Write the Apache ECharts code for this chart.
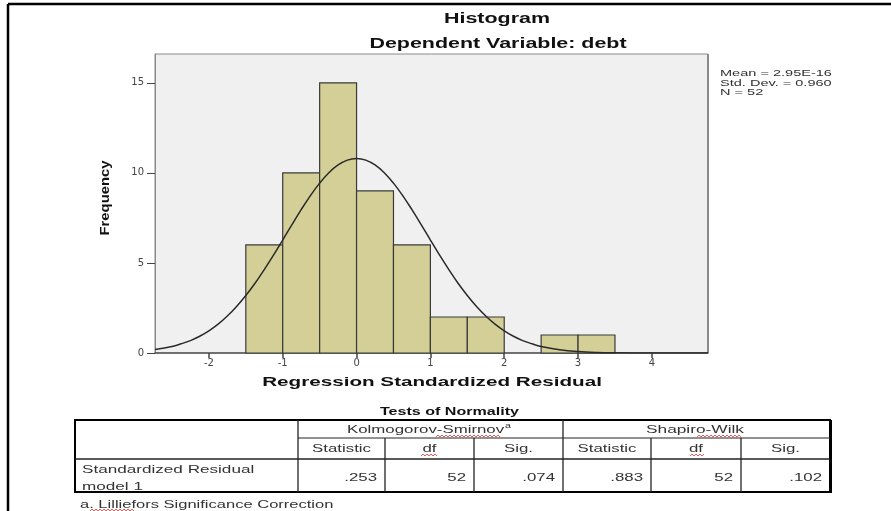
<!DOCTYPE html>
<html>
<head>
<meta charset="utf-8">
<title>Histogram</title>
<script src="https://cdn.jsdelivr.net/npm/echarts@6/dist/echarts.min.js"></script>
<style>
  html, body { margin: 0; padding: 0; background: #fff; }
  #main { width: 891px; height: 511px; }
</style>
</head>
<body>
<div id="main"></div>
<script type="text/javascript">
// histogram bins (left edge, width 0.5) and frequencies
var binStart = [-1.5, -1.0, -0.5, 0.0, 0.5, 1.0, 1.5, 2.0, 2.5, 3.0];
var binCount = [6, 10, 15, 9, 6, 2, 2, 0, 1, 1];
var binWidth = 0.5;

// normal curve
var curveX = [-2.73, -2.5, -2.375, -2.25, -2.125, -2, -1.875, -1.75, -1.625, -1.5, -1.375, -1.25, -1.125, -1, -0.875, -0.75, -0.625, -0.5, -0.375, -0.25, -0.125, 0,
              0.125, 0.25, 0.375, 0.5, 0.625, 0.75, 0.875, 1, 1.125, 1.25, 1.375, 1.5, 1.625, 1.75, 1.875, 2, 2.125, 2.25, 2.375, 2.5, 2.75, 3, 3.25, 3.5, 4, 4.76];
var curveY = [0.2, 0.36, 0.51, 0.69, 0.93, 1.23, 1.6, 2.05, 2.58, 3.19, 3.87, 4.63, 5.43, 6.27, 7.13, 7.96, 8.74, 9.43, 10.01, 10.44, 10.71, 10.8,
              10.71, 10.44, 10.01, 9.43, 8.74, 7.96, 7.13, 6.27, 5.43, 4.63, 3.87, 3.19, 2.58, 2.05, 1.6, 1.23, 0.93, 0.69, 0.51, 0.36, 0.18, 0.08, 0.03, 0.01, 0, 0];

var xTicks = [-2, -1, 0, 1, 2, 3, 4];
var yTicks = [0, 5, 10, 15];

var statLines = ['Mean = 2.95E-16', 'Std. Dev. = 0.960', 'N = 52'];

// tests of normality table
var ksStats = ['.253', '52', '.074'];
var swStats = ['.883', '52', '.102'];
var subHeads = ['Statistic', 'df', 'Sig.', 'Statistic', 'df', 'Sig.'];

var colX = [75, 298, 385, 474, 563, 651, 741, 830];
var rowY = [420, 438, 459, 492];

var FONT = '"Liberation Sans", Arial, sans-serif';
var SX = 1.53;

function txt(x, y, s, size, opts) {
    opts = opts || {};
    return {
        type: 'text',
        x: x, y: y,
        scaleX: opts.sx || SX,
        rotation: opts.rot || 0,
        scaleY: 1,
        silent: true,
        style: {
            text: s,
            font: (opts.bold ? 'bold ' : '') + size + 'px ' + FONT,
            fill: opts.color || '#333',
            align: opts.align || 'left',
            verticalAlign: 'middle'
        }
    };
}
function seg(x1, y1, x2, y2, w, c) {
    return {
        type: 'line', silent: true,
        shape: {x1: x1, y1: y1, x2: x2, y2: y2},
        style: {stroke: c || '#222', lineWidth: w || 1}
    };
}

var myChart = echarts.init(document.getElementById('main'));

var barData = [];
for (var i = 0; i < binStart.length; i++) {
    if (binCount[i] > 0) barData.push([binStart[i], binStart[i] + binWidth, binCount[i]]);
}
var lineData = [];
for (var j = 0; j < curveX.length; j++) lineData.push([curveX[j], curveY[j]]);

var g = [];
// outer frame
g.push(seg(8, 4, 891, 4, 2.5, '#000'));
g.push(seg(8, 4, 8, 511, 2.5, '#000'));
// titles
g.push(txt(497, 19, 'Histogram', 14, {bold: true, align: 'center', color: '#111'}));
g.push(txt(498, 44, 'Dependent Variable: debt', 14, {bold: true, align: 'center', color: '#111'}));
// plot right border a bit heavier
g.push(seg(708, 54, 708, 353, 2, '#8a8a8a'));
// stats box
for (var k = 0; k < statLines.length; k++) {
    g.push(txt(720, 73.5 + k * 9.5, statLines[k], 9.5, {color: '#333'}));
}
// axis names
g.push(txt(105, 198, 'Frequency', 13, {bold: true, rot: Math.PI / 2, sx: 1.14, align: 'center', color: '#111'}));
g.push(txt(432, 382, 'Regression Standardized Residual', 13.5, {bold: true, align: 'center', color: '#111'}));

// table
g.push(txt(380, 412, 'Tests of Normality', 10.5, {bold: true, color: '#111'}));
g.push({
    type: 'rect', silent: true,
    shape: {x: colX[0], y: rowY[0], width: colX[7] - colX[0], height: rowY[3] - rowY[0]},
    style: {fill: 'none', stroke: '#000', lineWidth: 2}
});
g.push(seg(831, rowY[0], 831, rowY[3] + 1, 2, '#000'));
g.push(seg(colX[1], rowY[0], colX[1], rowY[3], 1.3));
g.push(seg(colX[4], rowY[0], colX[4], rowY[3], 1.3));
[2, 3, 5, 6].forEach(function (c) { g.push(seg(colX[c], rowY[1], colX[c], rowY[3], 1.3)); });
g.push(seg(colX[1], rowY[1], colX[7], rowY[1], 1));
g.push(seg(colX[0], rowY[2], colX[7], rowY[2], 1.3));

g.push(txt(347, 429.5, 'Kolmogorov-Smirnov', 11));
g.push(txt(505, 426, 'a', 7));
g.push(txt(646, 429.5, 'Shapiro-Wilk', 11.3));
for (var h = 0; h < subHeads.length; h++) {
    g.push(txt((colX[h + 1] + colX[h + 2]) / 2, 449, subHeads[h], 11, {align: 'center'}));
}
g.push(txt(82, 469.5, 'Standardized Residual', 11.2));
g.push(txt(82, 486.5, 'model 1', 11.2));
var vals = ksStats.concat(swStats);
for (var v = 0; v < vals.length; v++) {
    g.push(txt(colX[v + 2] - 8, 477.5, vals[v], 11, {align: 'right'}));
}
g.push(txt(80, 505, 'a. Lilliefors Significance Correction', 10.8));

// spell-check squiggles
function squiggle(x0, x1, y) {
    var pts = [];
    for (var x = x0, up = 0; x <= x1; x += 2, up = 1 - up) pts.push([x, y + (up ? -1 : 1)]);
    return {type: 'polyline', silent: true, shape: {points: pts}, style: {stroke: '#e03030', lineWidth: 0.8, fill: null}};
}
g.push(squiggle(436, 500, 436));
g.push(squiggle(421, 437, 455));
g.push(squiggle(690, 704, 455));
g.push(squiggle(697, 742, 436));
g.push(squiggle(90, 134, 510));

var option = {
    animation: false,
    backgroundColor: '#fff',
    grid: {
        left: 155, top: 54, right: 183, bottom: 158,
        show: true,
        backgroundColor: '#f0f0f0',
        borderColor: '#8a8a8a',
        borderWidth: 1
    },
    xAxis: {
        type: 'value',
        min: -2.73, max: 4.76,
        axisLine: {show: true, onZero: false, lineStyle: {color: '#555', width: 1.5}},
        axisTick: {show: true, length: 5, customValues: xTicks, lineStyle: {color: '#444', width: 1.5}},
        axisLabel: {customValues: xTicks, margin: 5, fontSize: 10, color: '#444', fontFamily: 'DejaVu Sans'},
        splitLine: {show: false}
    },
    yAxis: {
        type: 'value',
        min: 0, max: 16.6,
        axisLine: {show: true, onZero: false, lineStyle: {color: '#8a8a8a', width: 1}},
        axisTick: {show: true, length: 8, customValues: yTicks, lineStyle: {color: '#444', width: 1}},
        axisLabel: {customValues: yTicks, margin: 11, fontSize: 10, color: '#444', fontFamily: 'DejaVu Sans'},
        splitLine: {show: false}
    },
    series: [
        {
            type: 'custom',
            data: barData,
            renderItem: function (params, api) {
                var p0 = api.coord([api.value(0), api.value(2)]);
                var p1 = api.coord([api.value(1), 0]);
                return {
                    type: 'rect',
                    shape: {x: p0[0], y: p0[1], width: p1[0] - p0[0], height: p1[1] - p0[1]},
                    style: {fill: '#d3cf96', stroke: '#3a3a3a', lineWidth: 1.2}
                };
            },
            z: 2
        },
        {
            type: 'line',
            data: lineData,
            smooth: 0.4,
            symbol: 'none',
            lineStyle: {color: '#2a2a2a', width: 1.5},
            z: 3
        }
    ],
    graphic: g
};

myChart.setOption(option);
</script>
</body>
</html>
